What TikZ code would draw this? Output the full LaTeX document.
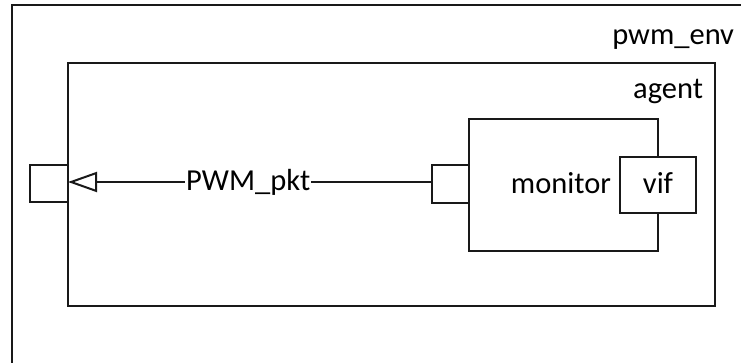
\documentclass[tikz,border=0pt]{standalone}
\usepackage{fontspec}
\setmainfont{Carlito}
\usetikzlibrary{arrows.meta}
\begin{document}
\begin{tikzpicture}[x=1pt,y=-1pt,
  line width=2pt,
  box/.style={draw=black!90, fill=white, rectangle, inner sep=0pt, outer sep=0pt, anchor=north west},
  lbl/.style={inner sep=0pt, outer sep=0pt, font=\fontsize{30.5}{36}\selectfont},
  wire/.style={draw=black!90, line width=2pt}]
  \useasboundingbox (0,0) rectangle (741,363);
  % environment frame (continues past the right and lower edges)
  \coordinate (envbl) at (12,363);
  \coordinate (envtl) at (12,5);
  \coordinate (envtr) at (741,5);
  \draw[black!90] (envbl) -- (envtl) -- (envtr);
  \node[lbl, anchor=base east] (envlbl) at (734,45) {pwm\_env};
  % agent
  \node[box, minimum width=647pt, minimum height=243pt] (agent) at (68,63) {};
  \node[lbl, anchor=base east] (agentlbl) at (703,99) {agent};
  % agent port
  \node[box, minimum width=38pt, minimum height=37pt] (aport) at (30,165) {};
  % monitor
  \node[box, minimum width=189pt, minimum height=132pt] (monitor) at (469,119) {};
  \node[lbl, anchor=base east] (monlbl) at (611,194) {monitor};
  \node[box, minimum width=76pt, minimum height=56pt] (vif) at (620,157) {};
  \node[lbl, anchor=base] (viflbl) at (658,194) {vif};
  % monitor port
  \node[box, minimum width=37pt, minimum height=38pt] (mport) at (432,165) {};
  % analysis connection
  \draw[wire, -{Triangle[open, length=29pt, width=20pt, line width=2pt]}]
    (mport.west |- 0,182) -- (aport.east |- 0,182)
    node[pos=0.505, fill=white, lbl, inner xsep=1pt, inner ysep=4pt] (pkt) {PWM\_pkt};
\end{tikzpicture}
\end{document}
